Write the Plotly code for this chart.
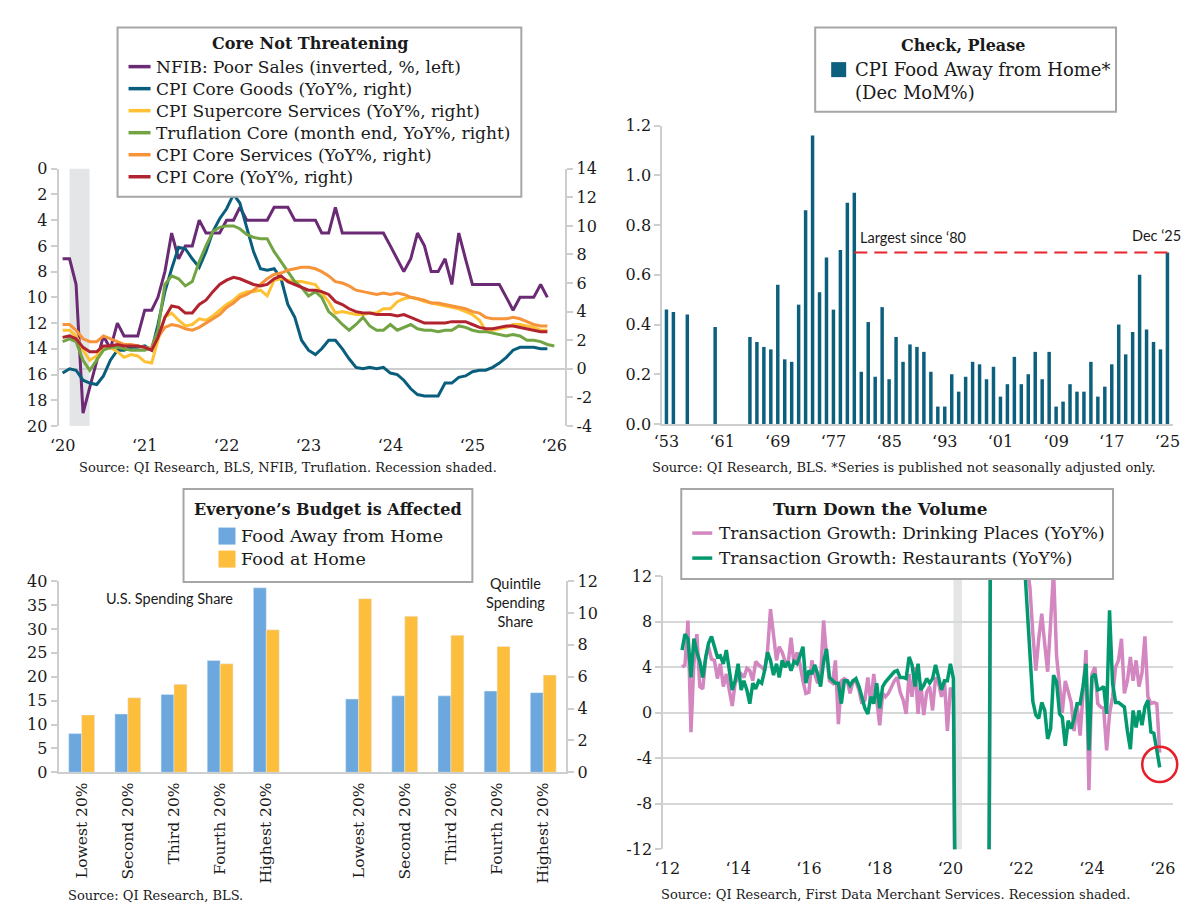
import pandas as pd
import plotly.graph_objects as go

# ---------------- Panel 1: Core Not Threatening (monthly from Jan 2020) ----------------
tl_start = "2020-01-01"
nfib_poor_sales = [7, 7, 9, 19, 17, 15, 13, 14, 12, 13,
                   13, 13, 11, 11, 10, 8, 5, 7, 6, 6,
                   4, 5, 5, 5, 4, 4, 3, 4, 4, 4,
                   4, 3, 3, 3, 4, 4, 4, 4, 5, 5,
                   3, 5, 5, 5, 5, 5, 5, 5, 6, 7,
                   8, 7, 5, 6, 8, 8, 7, 9, 5, 7,
                   9, 9, 9, 9, 9, 10, 11, 10, 10, 10,
                   9, 10]
cpi_core_goods = [-0.3, 0.0, -0.1, -0.8, -1.0, -1.1, -0.5, 0.6, 1.3, 1.3,
                  1.5, 1.5, 1.6, 1.3, 3.1, 5.4, 7.0, 8.5, 8.4, 7.7,
                  7.1, 8.2, 9.6, 10.5, 11.2, 12.2, 11.6, 9.8, 8.2, 7.0,
                  6.9, 7.0, 6.3, 4.5, 3.6, 2.0, 1.3, 1.0, 1.4, 2.0,
                  2.0, 1.4, 0.7, 0.1, 0.0, 0.1, 0.0, 0.1, -0.3, -0.4,
                  -0.8, -1.4, -1.8, -1.9, -1.9, -1.9, -1.0, -1.0, -0.6, -0.5,
                  -0.2, -0.1, -0.1, 0.1, 0.4, 0.8, 1.3, 1.5, 1.5, 1.5,
                  1.4, 1.4]
cpi_supercore = [2.7, 2.7, 2.3, 1.3, 0.6, 0.9, 1.5, 1.5, 1.2, 0.8,
                 1.0, 0.9, 0.5, 0.4, 2.0, 3.6, 3.9, 3.4, 3.0, 3.1,
                 3.5, 3.4, 3.7, 4.1, 4.5, 4.8, 5.2, 5.4, 5.4, 5.5,
                 5.1, 6.2, 6.3, 6.2, 6.1, 6.1, 6.0, 5.9, 5.3, 4.7,
                 3.9, 4.0, 3.9, 3.8, 3.8, 3.9, 3.9, 4.2, 4.2, 4.7,
                 4.9, 5.0, 4.9, 4.7, 4.6, 4.5, 4.4, 4.3, 4.2, 4.0,
                 3.8, 3.4, 2.7, 2.7, 2.8, 2.9, 3.1, 3.1, 3.0, 2.9,
                 2.7, 2.7]
truflation_core = [1.9, 2.1, 1.9, 0.6, -0.1, 0.6, 1.3, 1.5, 1.5, 1.4,
                   1.3, 1.3, 1.3, 1.5, 2.7, 5.9, 6.5, 6.3, 5.8, 6.1,
                   7.5, 8.6, 9.6, 9.9, 10.0, 10.0, 9.8, 9.4, 9.2, 9.1,
                   9.1, 8.2, 7.5, 6.8, 6.1, 5.7, 5.1, 5.4, 5.0, 4.0,
                   3.6, 3.1, 2.7, 3.1, 3.6, 3.0, 2.7, 2.7, 3.1, 2.7,
                   2.9, 3.1, 2.8, 2.7, 2.7, 2.6, 2.7, 2.7, 3.0, 2.9,
                   2.7, 2.6, 2.6, 2.5, 2.4, 2.3, 2.4, 2.3, 2.0, 2.0,
                   1.9, 1.7, 1.6]
cpi_core_services = [3.1, 3.1, 2.7, 2.1, 1.9, 1.9, 2.3, 2.1, 1.9, 1.7,
                     1.7, 1.6, 1.5, 1.4, 2.2, 2.9, 3.1, 3.0, 2.8, 2.7,
                     2.9, 3.2, 3.5, 3.8, 4.3, 4.6, 5.0, 5.2, 5.5, 5.9,
                     6.3, 6.6, 6.7, 6.9, 7.0, 7.1, 7.1, 7.0, 6.8, 6.5,
                     6.1, 6.0, 5.8, 5.5, 5.4, 5.3, 5.2, 5.3, 5.2, 5.3,
                     5.2, 5.0, 4.9, 4.8, 4.6, 4.6, 4.5, 4.4, 4.3, 4.2,
                     4.0, 3.9, 3.6, 3.5, 3.5, 3.5, 3.6, 3.5, 3.3, 3.1,
                     3.0, 3.0]
cpi_core = [2.2, 2.3, 2.1, 1.5, 1.2, 1.2, 1.6, 1.6, 1.7, 1.6,
            1.6, 1.6, 1.5, 1.3, 2.2, 3.6, 4.4, 4.3, 3.9, 3.9,
            4.5, 4.8, 5.4, 5.9, 6.2, 6.4, 6.3, 6.1, 5.9, 5.8,
            5.9, 6.3, 6.5, 6.1, 5.9, 5.7, 5.5, 5.5, 5.4, 5.2,
            4.7, 4.5, 4.2, 4.0, 3.9, 3.9, 3.8, 3.8, 3.8, 3.7,
            3.8, 3.6, 3.4, 3.2, 3.2, 3.2, 3.2, 3.3, 3.3, 3.3,
            3.1, 2.9, 2.8, 2.8, 2.9, 3.0, 3.0, 2.9, 2.8, 2.7,
            2.6, 2.6]
tl_years = [2020, 2021, 2022, 2023, 2024, 2025, 2026]
tl_left_ticks = [0, 2, 4, 6, 8, 10, 12, 14, 16, 18, 20]
tl_right_ticks = [-4, -2, 0, 2, 4, 6, 8, 10, 12, 14]
recession_2020 = ("2020-02-01", "2020-04-30")

# ---------------- Panel 2: Check, Please (Dec MoM%) ----------------
fafh_years = [1953, 1954, 1956, 1960] + list(range(1965, 2026))
fafh_dec_mom = [0.46, 0.45, 0.44, 0.39,
                0.35, 0.33, 0.31, 0.30, 0.56, 0.26, 0.25, 0.48, 0.86, 1.16,
                0.53, 0.67, 0.46, 0.70, 0.89, 0.93, 0.21, 0.41, 0.19, 0.47,
                0.18, 0.35, 0.25, 0.32, 0.31, 0.29, 0.21, 0.07, 0.07, 0.20,
                0.13, 0.19, 0.25, 0.24, 0.18, 0.23, 0.11, 0.16, 0.27, 0.16,
                0.20, 0.29, 0.18, 0.29, 0.07, 0.09, 0.16, 0.13, 0.13, 0.25,
                0.11, 0.15, 0.24, 0.40, 0.28, 0.37, 0.60, 0.38, 0.33, 0.30,
                0.69]
largest_since_year = 1980
tr_tick_years = [1953, 1961, 1969, 1977, 1985, 1993, 2001, 2009, 2017, 2025]
tr_y_ticks = [0.0, 0.2, 0.4, 0.6, 0.8, 1.0, 1.2]

# ---------------- Panel 3: Everyone's Budget is Affected ----------------
quintiles = ["Lowest 20%", "Second 20%", "Third 20%", "Fourth 20%", "Highest 20%"]
us_share_away = [8.1, 12.2, 16.3, 23.4, 38.6]
us_share_home = [12.0, 15.6, 18.4, 22.7, 29.8]
quintile_share_away = [4.6, 4.8, 4.8, 5.1, 5.0]
quintile_share_home = [10.9, 9.8, 8.6, 7.9, 6.1]
bl_left_ticks = [0, 5, 10, 15, 20, 25, 30, 35, 40]
bl_right_ticks = [0, 2, 4, 6, 8, 10, 12]

# ---------------- Panel 4: Turn Down the Volume (monthly from Jun 2012) ----------------
br_start = "2012-06-01"
drinking_places = [4.0, 4.2, 8.1, -1.7, 4.3, 6.9, 2.3, 2.1, 4.9, 5.8,
                   4.7, 4.6, 3.0, 4.3, 2.3, 3.4, 2.0, 0.6, 2.6, 3.1,
                   3.4, 3.1, 3.9, 3.7, 2.8, 4.5, 4.2, 4.0, 3.7, 5.5,
                   9.1, 6.6, 4.6, 5.8, 5.3, 4.5, 4.3, 6.6, 4.3, 5.3,
                   4.3, 2.8, 1.7, 1.8, 4.6, 3.4, 2.6, 3.1, 8.1, 5.0,
                   2.8, 2.6, 4.6, -1.0, 2.8, 3.0, 2.8, 1.7, 2.8, 2.7,
                   2.0, 0.8, 1.1, 3.1, 0.8, 3.4, 0.9, -1.1, 1.7, 1.4,
                   1.7, 2.3, 2.8, 3.1, 1.8, 1.1, -0.1, 3.4, 1.4, 4.0,
                   -0.1, 2.6, -0.2, 1.8, 2.3, 0.2, 3.1, 2.6, 1.4, 2.8,
                   -1.6, 2.2,
                   1.5,
                   -35, -75, -60, -45, -38, -35, -30, -28, -30, -32, -35,
                   -25,
                   45, 120, 70, 45, 35, 30, 28, 25, 24, 22, 20, 18,
                   13, 11, 7,
                   3.7, 6.5, 8.7, 6.0, 3.6, 8.0, 12.5, 5.0, 2.0, 0.0,
                   2.8, 1.7, 0.9, -1.6, 0.8, -2.0, 1.7, 5.5, -6.8, 3.4,
                   4.0, 0.8, 0.5, 0.4, -3.3, -0.1, 1.4, 4.0, 4.6, 6.5,
                   1.7, 2.8, 4.9, 2.8, 4.6, 2.3, 3.5, 6.7, 1.4, 0.8,
                   0.9, 0.8, -3.5]
restaurants = [5.5, 6.9, 6.5, 3.1, 6.5, 5.3, 4.5, 3.1, 4.9, 6.1,
               6.7, 5.9, 4.9, 5.0, 4.3, 5.5, 4.0, 2.0, 2.8, 4.3,
               2.0, 2.8, 2.0, 0.8, 2.6, 2.1, 2.8, 2.6, 3.7, 5.3,
               4.6, 3.3, 4.3, 3.1, 4.6, 4.0, 4.5, 3.7, 4.5, 4.3,
               5.0, 5.8, 2.6, 3.7, 3.4, 4.2, 3.4, 2.3, 4.5, 5.6,
               3.1, 2.8, 2.6, 2.6, 0.8, 2.8, 2.8, 2.4, 2.8, 3.0,
               2.3, 1.4, 0.4, -0.1, 1.4, 0.8, 2.6, 0.4, 2.3, 2.7,
               3.0, 3.3, 3.6, 3.7, 3.1, 3.1, 3.0, 4.9, 4.2, 2.3,
               4.3, 2.0, 2.4, 3.0, 2.6, 3.0, 4.2, 3.1, 2.0, 2.8,
               2.8, 4.3,
               3.0,
               -28, -62, -48, -32, -25, -22, -20, -18, -20, -22, -24,
               -16,
               38, 95, 55, 32, 25, 22, 20, 18, 18, 16, 15, 13.5,
               9.8, 6.0, 1.0,
               -0.2, -0.5, 0.9, 0.2, -2.3, -1.4, 3.3, 2.7, -0.1, -0.4,
               -2.9, -0.7, -1.4, -0.5, 0.8, 0.8, 2.3, 4.3, -3.3, 3.1,
               3.4, 2.0, 2.1, 2.3, -0.1, 9.0, 2.6, 0.9, 0.9, 0.7,
               0.5, -1.6, -3.2, 0.2, -1.3, 0.2, -1.1, 0.5, 1.1, -1.7,
               -1.8, -3.3, -4.8]
br_years = [2012, 2014, 2016, 2018, 2020, 2022, 2024, 2026]
br_y_ticks = [-12, -8, -4, 0, 4, 8, 12]

# ---------------- styling ----------------
SERIF = "DejaVu Serif"
SANS = "Lato"
TXT = "#1a1a1a"
AX = "#cdcfcf"
LEG_BORDER = "#a4a7a6"
SHADE = "#e4e5e7"
PURPLE, TEAL, YELLOW, GREEN, ORANGE, RED = "#6b2a74", "#0a5e7d", "#fdc133", "#72a444", "#f79339", "#b1232f"
BAR_TEAL = "#0d5f7e"
BLUE, GOLD = "#6ca8dd", "#fdbe3e"
PINK, DGREEN = "#d386c0", "#03996f"

# page geometry: the browser body keeps its default 8px margin; the captured page is
# slightly rescaled, so target positions are pre-compensated.
OFF = 8
FIG_W, FIG_H = 1200 - 2 * OFF, 918 - 2 * OFF
CAP_AX, CAP_SX = 8.5, 0.987
CAP_AY, CAP_SY = 8.6, 0.978


def px_x(v):
    page = (v - CAP_AX) / CAP_SX
    return (page - OFF) / FIG_W


def px_y(v):
    page = (v - CAP_AY) / CAP_SY
    return 1 - (page - OFF) / FIG_H


def monthly(start, values):
    return pd.date_range(start, periods=len(values), freq="MS")


def yr_label(y):
    return "\u2018" + str(y)[-2:]


fig = go.Figure()

# ---- panel 1 traces
tl_series = [
    ("NFIB: Poor Sales (inverted, %, left)", nfib_poor_sales, PURPLE, "y"),
    ("CPI Core Goods (YoY%, right)", cpi_core_goods, TEAL, "y2"),
    ("CPI Supercore Services (YoY%, right)", cpi_supercore, YELLOW, "y2"),
    ("Truflation Core (month end, YoY%, right)", truflation_core, GREEN, "y2"),
    ("CPI Core Services (YoY%, right)", cpi_core_services, ORANGE, "y2"),
    ("CPI Core (YoY%, right)", cpi_core, RED, "y2"),
]
for name, vals, col, yax in tl_series:
    fig.add_trace(go.Scatter(x=monthly(tl_start, vals), y=vals, name=name, mode="lines",
                             line=dict(color=col, width=3), xaxis="x", yaxis=yax,
                             showlegend=False))

# ---- panel 2 traces
fafh_name = "CPI Food Away from Home*<br>(Dec MoM%)"
fig.add_trace(go.Bar(x=fafh_years, y=fafh_dec_mom, name=fafh_name,
                     marker=dict(color=BAR_TEAL, line=dict(width=0)), width=0.5,
                     xaxis="x2", yaxis="y3", showlegend=False))
fig.add_trace(go.Scatter(x=[largest_since_year, fafh_years[-1]], y=[fafh_dec_mom[-1]] * 2,
                         mode="lines", line=dict(color="#e8242c", width=2, dash="13px,7px"),
                         showlegend=False, xaxis="x2", yaxis="y3", hoverinfo="skip"))

# ---- panel 3 traces
left_pos = list(range(len(quintiles)))
right_pos = [p + len(quintiles) + 1 for p in left_pos]
bw = 0.28
fig.add_trace(go.Bar(x=left_pos, y=us_share_away, name="Food Away from Home", marker_color=BLUE,
                     width=bw, offset=-bw, xaxis="x3", yaxis="y4", showlegend=False))
fig.add_trace(go.Bar(x=left_pos, y=us_share_home, name="Food at Home", marker_color=GOLD,
                     width=bw, offset=0, xaxis="x3", yaxis="y4", showlegend=False))
fig.add_trace(go.Bar(x=right_pos, y=quintile_share_away, name="Food Away from Home", marker_color=BLUE,
                     width=bw, offset=-bw, xaxis="x3", yaxis="y5", showlegend=False))
fig.add_trace(go.Bar(x=right_pos, y=quintile_share_home, name="Food at Home", marker_color=GOLD,
                     width=bw, offset=0, xaxis="x3", yaxis="y5", showlegend=False))

# ---- panel 4 traces
br_series = [
    ("Transaction Growth: Drinking Places (YoY%)", drinking_places, PINK),
    ("Transaction Growth: Restaurants (YoY%)", restaurants, DGREEN),
]
for name, vals, col in br_series:
    fig.add_trace(go.Scatter(x=monthly(br_start, vals), y=vals, name=name, mode="lines",
                             line=dict(color=col, width=3.5), xaxis="x4", yaxis="y6",
                             showlegend=False))

# ---------------- layout ----------------
tick_font = dict(family=SERIF, size=16, color=TXT)
yax_common = dict(showline=True, linecolor=AX, linewidth=2, ticks="outside", ticklen=6,
                  tickcolor=AX, tickwidth=2, showgrid=False, zeroline=False, tickfont=tick_font)

BR_X_RANGE = ["2011-11-20", "2026-04-17"]
BR_PX = (663, 1173, 575, 848)  # left, right, top, bottom (target px)

fig.update_layout(
    width=FIG_W, height=FIG_H, margin=dict(l=0, r=0, t=0, b=0),
    paper_bgcolor="white", plot_bgcolor="white",
    font=dict(family=SERIF, color=TXT, size=16),
    barmode="overlay", showlegend=False,
    # panel 1
    xaxis=dict(domain=[px_x(58), px_x(565)], anchor="y", type="date",
               range=["2019-12-14", "2026-02-19"],
               tickvals=[f"{y}-01-01" for y in tl_years], ticktext=[yr_label(y) for y in tl_years],
               showline=False, showgrid=False, zeroline=False, ticks="", tickfont=tick_font,
               ticklabelstandoff=8),
    yaxis=dict(domain=[px_y(425), px_y(168)], anchor="x", range=[20, 0],
               tickvals=tl_left_ticks, ticktext=[str(v) for v in tl_left_ticks], **yax_common),
    yaxis2=dict(overlaying="y", side="right", anchor="x", range=[-4, 14],
                tickvals=tl_right_ticks, ticktext=[str(v) for v in tl_right_ticks],
                showline=True, linecolor=AX, linewidth=2, ticks="outside", ticklen=6,
                tickcolor=AX, tickwidth=2, showgrid=False, zeroline=True,
                zerolinecolor=AX, zerolinewidth=2, tickfont=tick_font),
    # panel 2
    xaxis2=dict(domain=[px_x(662), px_x(1173)], anchor="y3", range=[1952.4, 2025.8],
                tickvals=tr_tick_years, ticktext=[yr_label(y) for y in tr_tick_years],
                showline=True, linecolor=AX, linewidth=2, ticks="", showgrid=False,
                zeroline=False, tickfont=tick_font, ticklabelstandoff=2),
    yaxis3=dict(domain=[px_y(423), px_y(125)], anchor="x2", range=[0, 1.2],
                tickvals=tr_y_ticks, ticktext=[f"{v:.1f}" for v in tr_y_ticks], **yax_common),
    # panel 3
    xaxis3=dict(domain=[px_x(58), px_x(566)], anchor="y4", range=[-0.5, right_pos[-1] + 0.5],
                tickvals=left_pos + right_pos, ticktext=quintiles + quintiles, tickangle=-90,
                showline=True, linecolor=AX, linewidth=2, ticks="", showgrid=False,
                zeroline=False, tickfont=dict(family=SERIF, size=15.5, color=TXT),
                ticklabelstandoff=2),
    yaxis4=dict(domain=[px_y(771), px_y(580)], anchor="x3", range=[0, 40],
                tickvals=bl_left_ticks, ticktext=[str(v) for v in bl_left_ticks], **yax_common),
    yaxis5=dict(overlaying="y4", side="right", anchor="x3", range=[0, 12],
                tickvals=bl_right_ticks, ticktext=[str(v) for v in bl_right_ticks], **yax_common),
    # panel 4
    xaxis4=dict(domain=[px_x(BR_PX[0]), px_x(BR_PX[1])], anchor="y6", type="date",
                range=BR_X_RANGE,
                tickvals=[f"{y}-01-01" for y in br_years], ticktext=[yr_label(y) for y in br_years],
                showline=False, showgrid=False, zeroline=False, ticks="", tickfont=tick_font,
                ticklabelstandoff=8),
    yaxis6=dict(domain=[px_y(BR_PX[3]), px_y(BR_PX[2])], anchor="x4", range=[-12, 12],
                tickvals=br_y_ticks, ticktext=[str(v) for v in br_y_ticks],
                showline=True, linecolor=AX, linewidth=2, ticks="outside", ticklen=6,
                tickcolor=AX, tickwidth=2, showgrid=True, gridcolor="#d7d8d8", gridwidth=2,
                zeroline=False, tickfont=tick_font),
)

# recession shading
fig.add_shape(type="rect", xref="x", yref="y domain", x0=recession_2020[0], x1=recession_2020[1],
              y0=0, y1=1, fillcolor=SHADE, line=dict(width=0), layer="below")
fig.add_shape(type="rect", xref="x4", yref="y6 domain", x0=recession_2020[0], x1=recession_2020[1],
              y0=0, y1=1, fillcolor=SHADE, line=dict(width=0), layer="below")

# red circle around the latest restaurants reading (in page coordinates so it is not clipped)
last_date = monthly(br_start, restaurants)[-1]
r0, r1 = pd.Timestamp(BR_X_RANGE[0]), pd.Timestamp(BR_X_RANGE[1])
cx = BR_PX[0] + (last_date - r0) / (r1 - r0) * (BR_PX[1] - BR_PX[0])
cy = BR_PX[3] - (restaurants[-1] + 12) / 24 * (BR_PX[3] - BR_PX[2]) - 3
rad = 17.5
fig.add_shape(type="circle", xref="paper", yref="paper",
              x0=px_x(cx - rad), x1=px_x(cx + rad), y0=px_y(cy + rad), y1=px_y(cy - rad),
              line=dict(color="#e4202a", width=2.5), layer="above")


# ---------------- hand-drawn legend boxes ----------------
def draw_legend(box, title, title_xy, title_size, entries, rows, sym, text_x, size, kind):
    fig.add_shape(type="rect", xref="paper", yref="paper",
                  x0=px_x(box[0]), x1=px_x(box[2]), y0=px_y(box[3]), y1=px_y(box[1]),
                  fillcolor="white", line=dict(color=LEG_BORDER, width=2), layer="above")
    fig.add_annotation(text=f"<b>{title}</b>", x=px_x(title_xy[0]), y=px_y(title_xy[1]),
                       xref="paper", yref="paper", xanchor="center", yanchor="middle",
                       showarrow=False, font=dict(family=SERIF, size=title_size, color=TXT))
    for (label, color, text_y), ry in zip(entries, rows):
        if kind == "line":
            fig.add_shape(type="line", xref="paper", yref="paper",
                          x0=px_x(sym[0]), x1=px_x(sym[1]), y0=px_y(ry), y1=px_y(ry),
                          line=dict(color=color, width=3.5), layer="above")
        else:
            half = (sym[1] - sym[0]) / 2
            fig.add_shape(type="rect", xref="paper", yref="paper",
                          x0=px_x(sym[0]), x1=px_x(sym[1]), y0=px_y(ry + half), y1=px_y(ry - half),
                          fillcolor=color, line=dict(width=0), layer="above")
        fig.add_annotation(text=label, x=px_x(text_x), y=px_y(text_y if text_y else ry),
                           xref="paper", yref="paper", xanchor="left", yanchor="middle",
                           align="left", showarrow=False,
                           font=dict(family=SERIF, size=size, color=TXT))


draw_legend((117, 27, 521, 196), "Core Not Threatening", (310, 43), 16,
            [(n, c, None) for n, _, c, _ in tl_series],
            [66, 88, 110, 132, 154, 176], (128, 150), 153, 17, "line")
draw_legend((815, 27, 1116, 111), "Check, Please", (963, 45), 16,
            [(fafh_name, BAR_TEAL, 80)], [69], (831, 846), 853, 18, "square")
draw_legend((183, 488, 472, 581), "Everyone\u2019s Budget is Affected", (328, 508), 16,
            [("Food Away from Home", BLUE, None), ("Food at Home", GOLD, None)],
            [535, 558], (218, 235), 239, 17.5, "square")
draw_legend((681, 488, 1113, 578), "Turn Down the Volume", (880, 508), 16.8,
            [(n, c, None) for n, _, c in br_series],
            [532, 557], (692, 712), 717, 17, "line")

src_font = dict(family=SERIF, size=13, color=TXT)
annos = [
    dict(text="Source: QI Research, BLS, NFIB, Truflation. Recession shaded.", x=px_x(288), y=px_y(466),
         xref="paper", yref="paper", xanchor="center", yanchor="middle", showarrow=False, font=src_font),
    dict(text="Source: QI Research, BLS. *Series is published not seasonally adjusted only.",
         x=px_x(904), y=px_y(466), xref="paper", yref="paper", xanchor="center", yanchor="middle",
         showarrow=False, font=src_font),
    dict(text="Source: QI Research, BLS.", x=px_x(65), y=px_y(894), xref="paper", yref="paper",
         xanchor="left", yanchor="middle", showarrow=False, font=src_font),
    dict(text="Source: QI Research, First Data Merchant Services. Recession shaded.", x=px_x(895),
         y=px_y(893), xref="paper", yref="paper", xanchor="center", yanchor="middle",
         showarrow=False, font=src_font),
    dict(text="Largest since \u2018" + str(largest_since_year)[-2:], x=largest_since_year, y=fafh_dec_mom[-1],
         xref="x2", yref="y3", xanchor="left", yanchor="bottom", xshift=4, yshift=4, showarrow=False,
         font=dict(family=SANS, size=14.5, color=TXT)),
    dict(text="Dec \u2018" + str(fafh_years[-1])[-2:], x=fafh_years[-1], y=fafh_dec_mom[-1],
         xref="x2", yref="y3", xanchor="right", yanchor="bottom", xshift=16, yshift=6, showarrow=False,
         font=dict(family=SANS, size=14.5, color=TXT)),
    dict(text="U.S. Spending Share", x=1.9, y=36.3, xref="x3", yref="y4", xanchor="center",
         yanchor="middle", showarrow=False, font=dict(family=SANS, size=14.5, color=TXT)),
    dict(text="Quintile<br>Spending<br>Share", x=9.4, y=35.5, xref="x3", yref="y4", xanchor="center",
         yanchor="middle", showarrow=False, font=dict(family=SANS, size=14.5, color=TXT)),
]
for a in annos:
    fig.add_annotation(**a)

fig.write_html("out.html", config={"displayModeBar": False})
